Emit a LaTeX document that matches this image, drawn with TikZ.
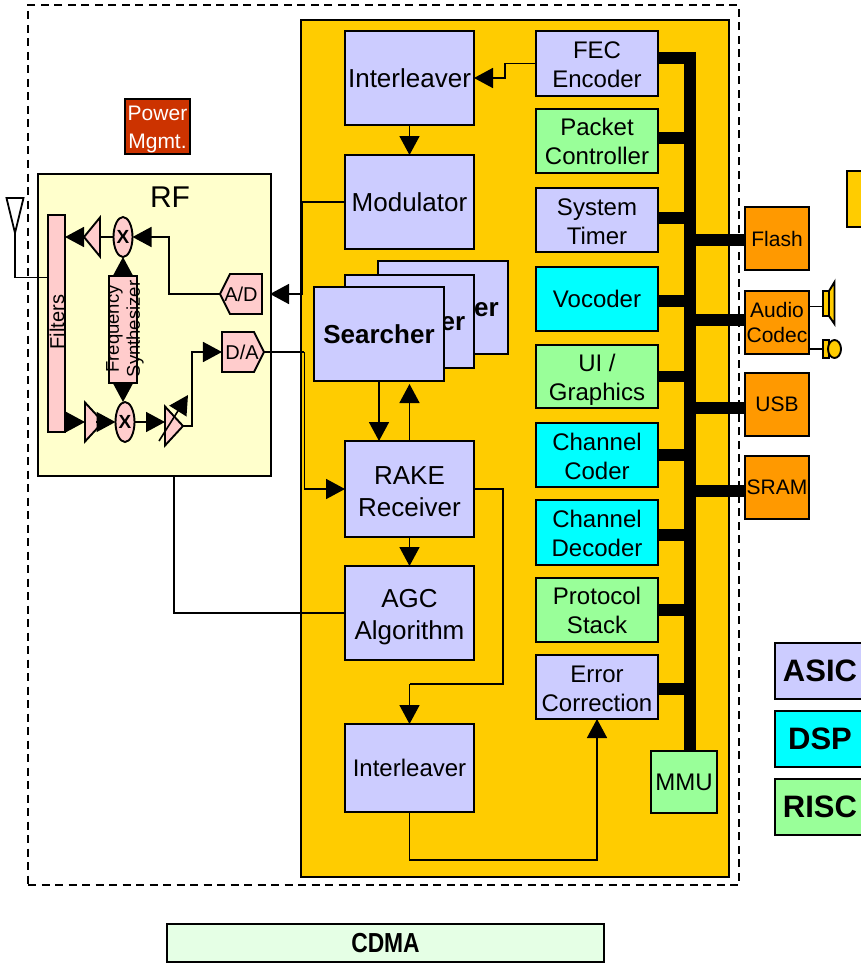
\documentclass[tikz,border=0pt]{standalone}
\usepackage{fontspec}
\setmainfont{Liberation Sans}
\newfontfamily\narrowfont[FakeStretch=0.83]{Liberation Sans}
\usetikzlibrary{arrows.meta,shapes.geometric,shapes.symbols}
\newcommand{\fbig}{\fontsize{26}{32}\selectfont}
\newcommand{\fmid}{\fontsize{24}{29}\selectfont}
\newcommand{\fsml}{\fontsize{21}{25}\selectfont}
\newcommand{\ftiny}{\fontsize{18.5}{21}\selectfont}
\newcommand{\drop}[1]{\rule{0pt}{#1pt}}
\definecolor{asiccol}{RGB}{204,204,255}
\definecolor{dspcol}{RGB}{0,255,255}
\definecolor{risccol}{RGB}{153,255,153}
\definecolor{orangecol}{RGB}{255,153,0}
\definecolor{goldcol}{RGB}{255,204,0}
\definecolor{rfcol}{RGB}{255,255,204}
\definecolor{pinkcol}{RGB}{255,204,204}
\definecolor{mgmtcol}{RGB}{204,51,0}
\definecolor{cdmacol}{RGB}{229,255,229}
\tikzset{
  sz/.style 2 args={minimum width=#1pt, minimum height=#2pt},
  box/.style={draw, line width=1.9pt, inner sep=0pt, outer sep=0pt, align=center, font=\fmid},
  asic/.style={box, fill=asiccol},
  dsp/.style={box, fill=dspcol},
  risc/.style={box, fill=risccol},
  periph/.style={box, fill=orangecol, font=\fsml, sz={64}{63}},
  pink/.style={box, fill=pinkcol, font=\fontsize{20}{22}\selectfont},
  mixer/.style={pink, ellipse, sz={19}{40}, font=\fontsize{19}{20}\selectfont\bfseries},
  amp/.style={pink, isosceles triangle, isosceles triangle stretches, sz={39}{18}},
  legend/.style={box, sz={90}{56}, font=\fontsize{31}{36}\selectfont\bfseries},
  flow/.style={-{Triangle[length=19pt,width=20pt]}, line width=1.6pt},
  wire/.style={line width=1.6pt},
  bus/.style={line width=11.5pt},
}
\begin{document}
\begin{tikzpicture}[x=1pt, y=-1pt]
  \clip (0,0) rectangle (861,966);
  \node[draw, dash pattern=on 8pt off 5.5pt, line width=1.8pt, inner sep=0pt, outer sep=0pt, sz={711}{880}] (chip) at (383.5,445) {};
  \node[box, fill=goldcol, sz={428}{857}] (modem) at (515,448.5) {};
  \node[box, fill=rfcol, sz={233}{302}] (rf) at (154.5,325) {};
  \node[font=\fontsize{30}{34}\selectfont] (rflbl) at (170,197) {RF};
  \node[box, fill=mgmtcol, text=white, font=\fsml, sz={65}{55}] (pwr) at (157.5,126.5) {\drop{21}Power\\[3pt]Mgmt.};

  \node[asic, font=\fbig, sz={129}{94}] (ilva) at (409.5,78) {Interleaver};
  \node[asic, font=\fbig, sz={129}{94}] (mod) at (409.5,202) {Modulator};
  \node[asic, font=\fbig\bfseries, sz={130}{93}] (srchc) at (443,307.5) {Searcher};
  \node[asic, font=\fbig\bfseries, sz={129}{93}] (srchb) at (409.5,321.5) {Searcher};
  \node[asic, font=\fbig\bfseries, sz={130}{94}] (srcha) at (379,334) {Searcher};
  \node[asic, font=\fbig, sz={129}{96}] (rake) at (409.5,489) {\drop{23}RAKE\\Receiver};
  \node[asic, font=\fbig, sz={129}{94}] (agc) at (409.5,613) {\drop{27}AGC\\Algorithm};
  \node[asic, sz={129}{88}] (ilvb) at (409.5,768) {Interleaver};

  \node[asic, sz={122}{65}] (fec) at (597,63.5) {\drop{20}FEC\\Encoder};
  \node[risc, sz={122}{64}] (pkt) at (597,141) {Packet\\Controller};
  \node[asic, sz={122}{64}] (tmr) at (597,220) {\drop{20}System\\Timer};
  \node[dsp, sz={122}{64}] (voc) at (597,299) {Vocoder};
  \node[risc, sz={122}{63}] (ui) at (597,376.5) {\drop{24}UI /\\Graphics};
  \node[dsp, sz={122}{64}] (coder) at (597,455) {\drop{20}Channel\\Coder};
  \node[dsp, sz={122}{65}] (decod) at (597,532.5) {\drop{20}Channel\\Decoder};
  \node[risc, sz={122}{64}] (stack) at (597,610) {Protocol\\Stack};
  \node[asic, sz={122}{64}] (err) at (597,687) {\drop{20}Error\\Correction};
  \node[risc, sz={66}{62}] (mmu) at (684,782) {MMU};
  \coordinate (bus) at (690,0);

  \node[periph] (flash) at (777,238.5) {Flash};
  \node[periph] (audio) at (777,322.5) {Audio\\Codec};
  \node[periph] (usb) at (777,404.5) {USB};
  \node[periph] (sram) at (777,487.5) {SRAM};
  \node[box, fill=goldcol, sz={40}{56}] (ext) at (867,199) {};
  \node[box, fill=goldcol, sz={6}{25}] (spk) at (826,303.5) {};
  \node[box, fill=goldcol, sz={6}{18}] (ear) at (826,349) {};
  \node[box, fill=goldcol, ellipse, sz={13}{18}] (earcap) at (834.5,349) {};

  \node[asic, legend] (lasic) at (820,671) {ASIC};
  \node[dsp, legend] (ldsp) at (820,739) {DSP};
  \node[risc, legend] (lrisc) at (820,807) {RISC};
  \node[box, fill=cdmacol, line width=2.6pt, sz={437}{38}, font=\narrowfont\fontsize{27.5}{30}\selectfont\bfseries] (cdma) at (385.5,943) {CDMA};

  \node[pink, sz={17}{217}] (filt) at (56.5,323.5) {};
  \node[font=\fontsize{20}{22}\selectfont, rotate=90] (filtlbl) at (57,322) {Filters};
  \node[pink, sz={28}{107}] (fsyn) at (123,329.5) {};
  \node[font=\ftiny, rotate=90, align=center] (fsynlbl) at (125,329) {Frequency\\Synthesizer};
  \node[mixer] (mixa) at (123,237) {X};
  \node[mixer] (mixb) at (125,422) {X};
  \node[amp, sz={39}{16}, shape border rotate=180, anchor=lower side] (ampa) at (100,237) {};
  \node[amp, anchor=lower side] (ampb) at (85,422) {};
  \node[amp, anchor=lower side] (ampc) at (165,426) {};
  \node[pink, signal, signal to=west, signal pointer angle=127, sz={42}{40}] (adc) at (246,294) {\hspace{-10pt}A/D};
  \node[pink, signal, signal to=east, signal pointer angle=127, sz={42}{40}] (dac) at (238,352) {D/A\hspace{-8pt}};
  \node[draw, line width=1.8pt, isosceles triangle, isosceles triangle stretches, shape border rotate=-90, inner sep=0pt, outer sep=0pt, sz={17}{35}, anchor=apex] (ant) at (15,233) {};
  \coordinate (vfrom) at (159,441);
  \coordinate (vto) at (188,395);

  \draw[wire] (ant.apex) |- ([yshift=46pt]filt.west);
  \draw[flow] (ampa.apex) -- (ampa.apex -| filt.east);
  \draw[wire] (mixa.west) -- (ampa.lower side);
  \draw[flow] (adc.west) -- ++(-51,0) |- (mixa.east);
  \draw[flow] (fsyn.north) -- (mixa.south);
  \draw[flow] (fsyn.south) -- (fsyn.south |- mixb.north);
  \draw[flow] (filt.east |- ampb.lower side) -- (ampb.lower side);
  \draw[flow] ([xshift=-7pt]ampb.apex) -- (mixb.west);
  \draw[flow] (mixb.east) -- (mixb.east -| ampc.lower side);
  \draw[flow] (vfrom) -- (vto);
  \draw[flow] (ampc.apex) -- ++(9,0) |- (dac.west);

  \draw[flow, shorten >=8pt] (mod.west) -- ++(-42.5,0) |- (adc.east);
  \draw[wire] (dac.east) -- ++(40.5,0) coordinate (dacout);
  \draw[flow] (dacout) |- (rake.west);
  \draw[wire] ([xshift=19.5pt]rf.south) |- (agc.west);
  \draw[flow] (fec.west) -- ++(-31,0) |- (ilva.east);
  \draw[flow] (ilva) -- (mod);
  \draw[flow] (srcha.south) -- (srcha.south |- rake.north);
  \draw[flow, shorten >=3pt] (rake.north) -- (rake.north |- srcha.south);
  \draw[flow] (rake) -- (agc);
  \draw[wire] (rake.east) -- ++(29,0) -- ++(0,195) -- ++(-93.5,0) coordinate (ilvin);
  \draw[flow] (ilvin) -- (ilvb.north);
  \draw[flow] (ilvb.south) -- ++(0,48) -| (err.south);

  \draw[bus] ([yshift=5.5pt]fec.east) -| ([xshift=6pt]mmu.north);
  \foreach \blk/\dy in {pkt/3,tmr/2,voc/-2,ui/0,coder/0,decod/-2.5,stack/0,err/-2}
    \draw[bus] ([yshift=\dy pt]\blk.east) -- ([yshift=\dy pt]\blk.east -| bus);
  \foreach \per/\dy in {flash/-1.5,audio/2.5,usb/-3.5,sram/-3.5}
    \draw[bus] ([yshift=\dy pt]\per.west) -- ([yshift=\dy pt]\per.west -| bus);

  \draw[wire] ([yshift=-3pt]spk.west -| audio.east) -- ([yshift=-3pt]spk.west);
  \draw[wire] (audio.east |- ear.west) -- (ear.west);
  \draw[box, fill=goldcol] (spk.north east) -- ++(5.5,-9) -- ++(0,42) -- (spk.south east) -- cycle;
\end{tikzpicture}
\end{document}
